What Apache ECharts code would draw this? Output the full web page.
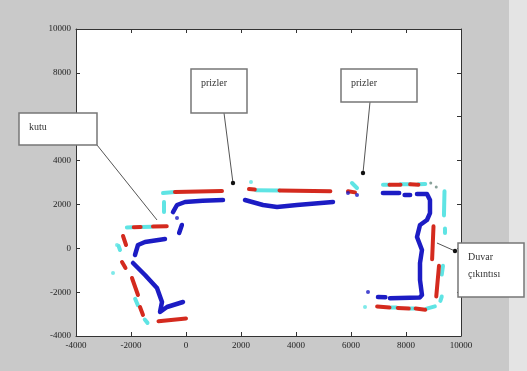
<!DOCTYPE html>
<html>
<head>
<meta charset="utf-8">
<script src="https://cdn.jsdelivr.net/npm/echarts@6/dist/echarts.min.js"></script>
<style>
html, body { margin: 0; padding: 0; background: #c9c9c9; }
#main { width: 527px; height: 371px; }
</style>
</head>
<body>
<div id="main"></div>
<script>
// eksen sınırları
const xRange = [-4000, 10000]
const yRange = [-4000, 10000]
const tickStep = 2000

// mavi iz (parça parça)
const blueSegments = [
  [[-473, 1654], [-327, 1974], [-36, 2110], [600, 2170], [1345, 2202]],
  [[2145, 2202], [2800, 1974], [3309, 1882], [4036, 1974], [5345, 2110]],
  [[-1855, -306], [-1746, 150], [-1491, 287], [-764, 423]],
  [[-1927, -671], [-1491, -1218], [-1055, -1811], [-873, -2450], [-945, -2906], [-691, -2678], [-109, -2450]],
  [[-150, 1062], [-250, 700]],
  [[7160, 2520], [7750, 2520]],
  [[7950, 2430], [8150, 2430]],
  [[8400, 2475], [8763, 2475], [8872, 2202], [8872, 1608], [8763, 1290], [8509, 1062], [8400, 514], [8581, -78], [8509, -671], [8509, -1446], [8581, -2130], [8500, -2240], [7781, -2267], [7418, -2280]],
  [[7250, -2230], [6981, -2222]]
]
const blueDots = [[-327, 1380], [5890, 2521], [6218, 2430], [6618, -1994]]

// kırmızı iz
const redSegments = [
  [[-400, 2566], [1309, 2612]],
  [[-1900, 960], [-1650, 970]],
  [[-1200, 990], [-700, 1000]],
  [[-2290, 560], [-2180, 150]],
  [[-2327, -626], [-2200, -900]],
  [[-1964, -1355], [-1746, -2130]],
  [[-1673, -2678], [-1564, -3042]],
  [[-1000, -3330], [0, -3200]],
  [[2290, 2700], [2500, 2680]],
  [[3400, 2640], [5250, 2600]],
  [[5890, 2600], [6145, 2550]],
  [[7400, 2900], [7800, 2900]],
  [[8150, 2920], [8450, 2900]],
  [[9000, 1000], [8950, -500]],
  [[9200, -800], [9100, -2200]],
  [[6950, -2650], [7400, -2700]],
  [[7700, -2720], [8100, -2750]],
  [[8350, -2750], [8700, -2800]]
]

// camgöbeği iz
const cyanSegments = [
  [[-836, 2521], [-400, 2566]],
  [[-800, 2110], [-800, 1654]],
  [[-2150, 950], [-1950, 960]],
  [[-1600, 970], [-1250, 980]],
  [[-2450, 100], [-2400, -78]],
  [[-1850, -2300], [-1750, -2600]],
  [[-1500, -3250], [-1400, -3400]],
  [[2550, 2650], [3400, 2640]],
  [[6036, 2977], [6218, 2748]],
  [[7163, 2900], [7400, 2900]],
  [[7800, 2920], [8150, 2920]],
  [[8450, 2920], [8700, 2930]],
  [[9400, 2600], [9380, 1500]],
  [[9418, 900], [9418, 700]],
  [[9345, -800], [9300, -1200]],
  [[9300, -2200], [9250, -2400]],
  [[7450, -2700], [7650, -2700]],
  [[8150, -2750], [8300, -2750]],
  [[8750, -2750], [9050, -2650]]
]
const cyanDots = [[2363, 3022], [-2654, -1128], [-2509, 150], [6509, -2678]]
const grayDots = [[8900, 2980], [9100, 2800]]

// açıklama kutuları ve ok uçları (veri koordinatı)
const notes = [
  { lines: ['kutu'], box: [19, 113, 78, 32], from: [97, 145], tip: [-1055, 1290], dot: false },
  { lines: ['prizler'], box: [191, 69, 56, 44], from: [224, 113], tip: [1709, 2977], dot: true },
  { lines: ['prizler'], box: [341, 69, 76, 33], from: [370, 102], tip: [6436, 3433], dot: true },
  { lines: ['Duvar', 'çıkıntısı'], box: [458, 243, 66, 54], from: [455, 251], tip: [9127, 241], dot: false }
]

const BLUE = '#1c1cc4'
const RED = '#d42a1e'
const CYAN = '#5fe4e4'

const segSeries = (segs, color, width) => segs.map((seg) => ({
  type: 'line',
  data: seg,
  symbol: 'none',
  silent: true,
  lineStyle: { color: color, width: width, cap: 'round', join: 'round' },
  z: 3
}))

const dotSeries = (pts, color, size) => ({
  type: 'scatter',
  data: pts,
  symbolSize: size,
  itemStyle: { color: color },
  silent: true,
  z: 3
})

const myChart = echarts.init(document.getElementById('main'))

const axisCommon = {
  type: 'value',
  interval: tickStep,
  axisLine: { show: true, onZero: false, lineStyle: { color: '#333', width: 1 } },
  axisTick: { show: true, inside: true, length: 4, lineStyle: { color: '#333' } },
  splitLine: { show: false }
}
const labelStyle = {
  color: '#222',
  fontFamily: 'Liberation Serif',
  fontSize: 9,
  margin: 5,
  formatter: (v) => String(v)
}

const option = {
  backgroundColor: '#c9c9c9',
  animation: false,
  grid: { left: 76, right: 66, top: 29, bottom: 35, show: true, backgroundColor: '#ffffff', borderWidth: 0 },
  xAxis: [
    Object.assign({}, axisCommon, { min: xRange[0], max: xRange[1], position: 'bottom', axisLabel: labelStyle }),
    Object.assign({}, axisCommon, { min: xRange[0], max: xRange[1], position: 'top', axisLabel: { show: false } })
  ],
  yAxis: [
    Object.assign({}, axisCommon, { min: yRange[0], max: yRange[1], position: 'left', axisLabel: labelStyle }),
    Object.assign({}, axisCommon, { min: yRange[0], max: yRange[1], position: 'right', axisLabel: { show: false } })
  ],
  series: [
    ...segSeries(cyanSegments, CYAN, 4),
    ...segSeries(redSegments, RED, 4),
    ...segSeries(blueSegments, BLUE, 4.5),
    dotSeries(cyanDots, CYAN, 4),
    dotSeries(blueDots, BLUE, 4),
    dotSeries(grayDots, '#6a8a80', 3)
  ]
}

myChart.setOption(option)

// açıklamalar: kutu + ok çizgisi
const graphics = [
  { type: 'rect', shape: { x: 509, y: 0, width: 18, height: 371 }, style: { fill: '#e4e4e4' }, z: 0 }
]
notes.forEach((n) => {
  const tip = myChart.convertToPixel({ xAxisIndex: 0, yAxisIndex: 0 }, n.tip)
  graphics.push({
    type: 'line',
    shape: { x1: n.from[0], y1: n.from[1], x2: tip[0], y2: tip[1] },
    style: { stroke: '#555', lineWidth: 1 },
    z: 10
  })
  const dotAt = n.dot ? tip : (n.lines.length > 1 ? n.from : null)
  if (dotAt) {
    graphics.push({ type: 'circle', shape: { cx: dotAt[0], cy: dotAt[1], r: 2.2 }, style: { fill: '#111' }, z: 11 })
  }
  graphics.push({
    type: 'rect',
    shape: { x: n.box[0], y: n.box[1], width: n.box[2], height: n.box[3] },
    style: { fill: '#ffffff', stroke: '#777', lineWidth: 1.5 },
    z: 12
  })
  n.lines.forEach((t, i) => {
    graphics.push({
      type: 'text',
      x: n.box[0] + 10,
      y: n.box[1] + 9 + i * 17,
      style: { text: t, fill: '#333', font: '10px "Liberation Serif"' },
      z: 13
    })
  })
})
myChart.setOption({ graphic: graphics })

window.addEventListener('resize', () => {
  myChart.resize()
})
</script>
</body>
</html>
